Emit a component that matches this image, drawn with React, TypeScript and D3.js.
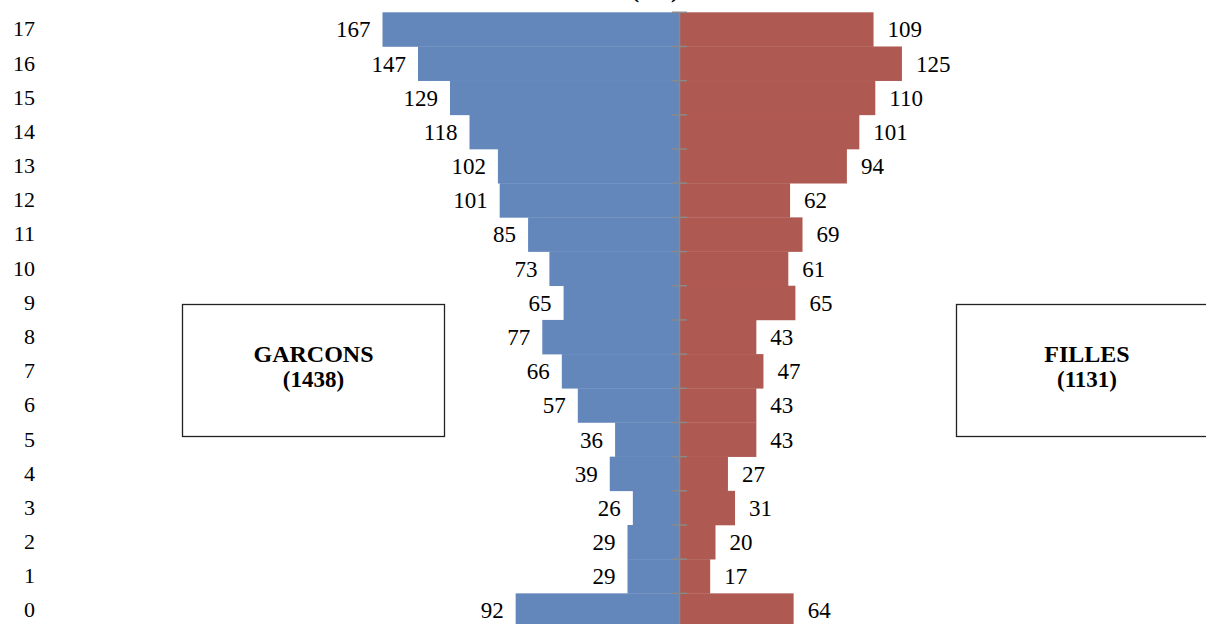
import React from "react";
import * as d3 from "d3";

const ages = [0, 1, 2, 3, 4, 5, 6, 7, 8, 9, 10, 11, 12, 13, 14, 15, 16, 17];
const garcons = [92, 29, 29, 26, 39, 36, 57, 66, 77, 65, 73, 85, 101, 102, 118, 129, 147, 167];
const filles = [64, 17, 20, 31, 27, 43, 43, 47, 43, 65, 61, 69, 62, 94, 101, 110, 125, 109];
const leftLabel = ["GARCONS", "(1438)"];
const rightLabel = ["FILLES", "(1131)"];
const titleText = "(ans)";

const W = 1206;
const H = 624;
const CX = 679.5;
const FONT = "'Liberation Serif', 'Times New Roman', serif";
const BLUE = "#6386bb";
const RED = "#ae5952";

export default function App() {
  const y = d3
    .scaleBand<number>()
    .domain([...ages].reverse())
    .range([12.3, 12.3 + 18 * 34.18])
    .padding(0);
  const x = d3.scaleLinear().domain([0, 167]).range([0, 296.5]);
  const bw = y.bandwidth();

  return (
    <svg
      width={W}
      height={H}
      style={{ position: "absolute", left: 0, top: 0, display: "block", background: "#fff" }}
    >
      <text x={655} y={-2.5} textAnchor="middle" fontFamily={FONT} fontWeight="bold" fontSize={22} fill="#000">
        {titleText}
      </text>
      {ages.map((a, i) => {
        const top = y(a)!;
        const cy = top + bw / 2;
        const gl = CX - 0.5 - x(garcons[i]);
        const fr = CX + 0.5 + x(filles[i]);
        return (
          <g key={a}>
            <rect x={gl} y={top} width={CX - 0.5 - gl} height={bw + 0.3} fill={BLUE} />
            <rect x={CX + 0.5} y={top} width={fr - CX - 0.5} height={bw + 0.3} fill={RED} />
            <text x={gl - 12} y={cy + 8} textAnchor="end" fontFamily={FONT} fontSize={23} fill="#000">
              {garcons[i]}
            </text>
            <text x={fr + 14} y={cy + 8} textAnchor="start" fontFamily={FONT} fontSize={23} fill="#000">
              {filles[i]}
            </text>
            <text x={35} y={cy + 7} textAnchor="end" fontFamily={FONT} fontSize={22} fill="#000">
              {a}
            </text>
          </g>
        );
      })}
      <line x1={CX} x2={CX} y1={y(17)!} y2={H} stroke="#8a8a8a" strokeWidth={1.5} />
      {ages.map((a) => (
        <line key={"t" + a} x1={672} x2={687} y1={y(a)!} y2={y(a)!} stroke="#8a8a8a" strokeWidth={1.5} />
      ))}
      <rect x={182.5} y={304.5} width={262} height={132} fill="#fff" stroke="#222" strokeWidth={1.3} />
      <text x={313.5} y={362} textAnchor="middle" fontFamily={FONT} fontWeight="bold" fontSize={24} fill="#000">
        {leftLabel[0]}
      </text>
      <text x={313.5} y={387} textAnchor="middle" fontFamily={FONT} fontWeight="bold" fontSize={23} fill="#000">
        {leftLabel[1]}
      </text>
      <rect x={956.5} y={304.5} width={262} height={132} fill="#fff" stroke="#222" strokeWidth={1.3} />
      <text x={1087} y={362} textAnchor="middle" fontFamily={FONT} fontWeight="bold" fontSize={24} fill="#000">
        {rightLabel[0]}
      </text>
      <text x={1087} y={387} textAnchor="middle" fontFamily={FONT} fontWeight="bold" fontSize={23} fill="#000">
        {rightLabel[1]}
      </text>
    </svg>
  );
}
